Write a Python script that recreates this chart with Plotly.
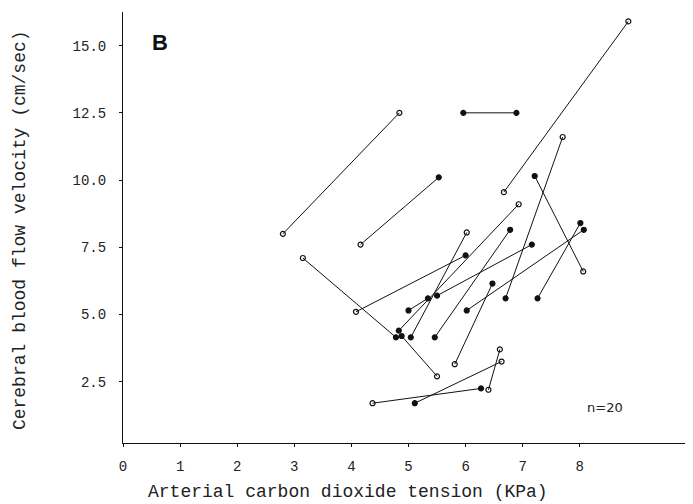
import plotly.graph_objects as go

# Each subject: two measurements (a -> b) joined by a line
pco2_a = [2.80, 4.16, 5.96, 6.67, 7.70, 7.21, 7.26, 4.08, 5.50, 6.78,
          6.02, 6.93, 3.15, 4.88, 6.47, 6.02, 4.37, 5.11, 6.40, 5.00]
vel_a = [8.0, 7.6, 12.5, 9.55, 11.6, 10.15, 5.6, 5.1, 5.7, 8.15,
         8.05, 9.1, 7.1, 4.2, 6.15, 5.15, 1.7, 1.7, 2.2, 5.15]
pco2_b = [4.84, 5.53, 6.89, 8.85, 6.70, 8.06, 8.01, 6.00, 7.16, 5.46,
          5.04, 4.83, 4.78, 5.50, 5.81, 8.07, 6.27, 6.63, 6.60, 5.34]
vel_b = [12.5, 10.1, 12.5, 15.9, 5.6, 6.6, 8.4, 7.2, 7.6, 4.15,
         4.15, 4.4, 4.15, 2.7, 3.15, 8.15, 2.25, 3.25, 3.7, 5.6]
kind_a = ["open", "open", "filled", "open", "open", "filled", "filled", "open", "filled", "filled",
          "open", "open", "open", "filled", "filled", "filled", "open", "filled", "open", "filled"]
kind_b = ["open", "filled", "filled", "open", "filled", "open", "filled", "filled", "filled", "filled",
          "filled", "filled", "filled", "open", "open", "filled", "filled", "open", "open", "filled"]

x_ticks = [0, 1, 2, 3, 4, 5, 6, 7, 8]
y_ticks = [2.5, 5.0, 7.5, 10.0, 12.5, 15.0]
y_tick_labels = ["2.5", "5.0", "7.5", "10.0", "12.5", "15.0"]

fig = go.Figure()

lx, ly = [], []
for xa, ya, xb, yb in zip(pco2_a, vel_a, pco2_b, vel_b):
    lx += [xa, xb, None]
    ly += [ya, yb, None]
fig.add_trace(go.Scatter(x=lx, y=ly, mode="lines",
                         line=dict(color="#111111", width=1), hoverinfo="skip"))

for k, sym in (("open", "circle-open"), ("filled", "circle")):
    px = [x for x, t in zip(pco2_a, kind_a) if t == k] + [x for x, t in zip(pco2_b, kind_b) if t == k]
    py = [y for y, t in zip(vel_a, kind_a) if t == k] + [y for y, t in zip(vel_b, kind_b) if t == k]
    fig.add_trace(go.Scatter(x=px, y=py, mode="markers",
                             marker=dict(symbol=sym, size=5, color="#111111",
                                         line=dict(color="#111111", width=1.2))))

mono = "Liberation Mono"
fig.update_layout(
    width=685, height=496,
    margin=dict(l=115, r=3, t=4, b=61),
    paper_bgcolor="white", plot_bgcolor="white",
    showlegend=False,
    xaxis=dict(range=[0, 9.93], tickvals=x_ticks, ticktext=[str(v) for v in x_ticks],
               showline=True, linecolor="#111111", linewidth=1, showgrid=False, zeroline=False,
               ticks="outside", ticklen=3, tickcolor="#111111",
               tickfont=dict(family=mono, size=14, color="#222222"), ticklabelstandoff=7),
    yaxis=dict(range=[0.22, 16.25], tickvals=y_ticks, ticktext=y_tick_labels,
               showline=True, linecolor="#111111", linewidth=1, showgrid=False, zeroline=False,
               ticks="outside", ticklen=3, tickcolor="#111111",
               tickfont=dict(family=mono, size=14, color="#222222"), ticklabelstandoff=10),
    annotations=[
        dict(text="Arterial carbon dioxide tension (KPa)", xref="paper", yref="paper",
             x=0.397, y=0, xanchor="center", yanchor="middle", yshift=-49, showarrow=False,
             font=dict(family=mono, size=18, color="#222222")),
        dict(text="Cerebral blood flow velocity (cm/sec)", xref="paper", yref="paper",
             x=0, y=0.494, xanchor="center", yanchor="middle", xshift=-103, textangle=-90,
             showarrow=False, font=dict(family=mono, size=18, color="#222222")),
        dict(text="<b>B</b>", xref="paper", yref="paper", x=0.065, y=0.93,
             xanchor="center", yanchor="middle", showarrow=False,
             font=dict(family="Liberation Sans", size=22, color="#111111")),
        dict(text="n=20", xref="paper", yref="paper", x=0.85, y=0.0835,
             xanchor="center", yanchor="middle", showarrow=False,
             font=dict(family="DejaVu Sans", size=13, color="#222222")),
    ],
)

fig.write_html("out.html")
